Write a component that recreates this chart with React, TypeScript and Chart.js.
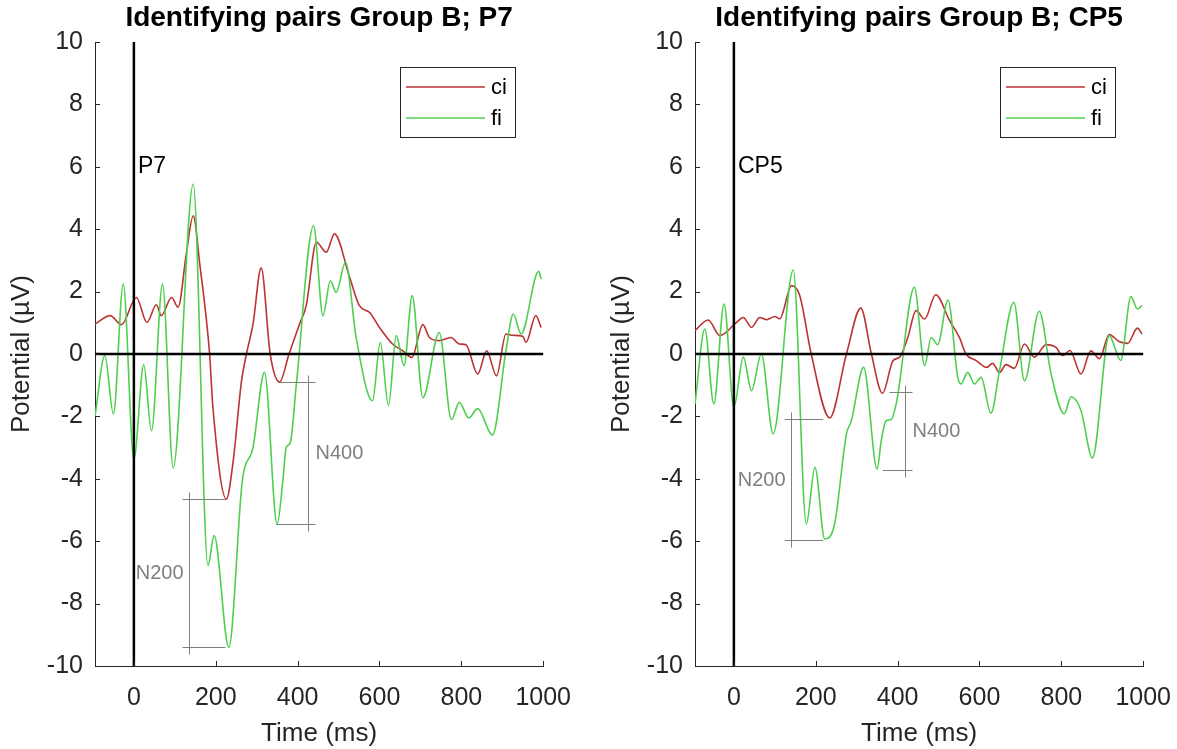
import React, { useEffect, useRef } from 'react';
import { Chart, registerables } from 'chart.js';

Chart.register(...registerables);

const FONT = "'Liberation Sans', Arial, Helvetica, sans-serif";
const AXIS_GRAY = '#262626';
const NOTE_GRAY = '#7f7f7f';

// Axis ranges and tick values
const timeMin = -95;
const timeMax = 1000;
const xTicks = [0, 200, 400, 600, 800, 1000];
const yTicks = [-10, -8, -6, -4, -2, 0, 2, 4, 6, 8, 10];

const seriesNames = ['ci', 'fi'];
const seriesColors = ['#bb3333', '#4fcf4f'];

// P7 electrode, condition ci (ms, µV)
const p7CiTime = [-95, -58, -30, 6, 32, 55, 67, 92, 108, 128, 145, 161, 185, 193, 226, 242, 263, 275, 291, 311, 333, 356, 379, 405, 421, 446, 470, 490, 527, 551, 576, 600, 632, 657, 679, 706, 722, 746, 775, 795, 811, 840, 862, 886, 909, 925, 950, 958, 982, 995];
const p7CiValue = [0.96, 1.23, 0.94, 1.81, 1.01, 1.58, 1.23, 1.81, 1.5, 3.2, 4.43, 2.88, 0, -1.7, -4.65, -3.5, -0.86, 0, 0.96, 2.76, 0, -0.9, 0, 0.97, 1.55, 3.58, 3.26, 3.85, 2.46, 1.55, 1.33, 0.85, 0.32, 0.1, -0.11, 0.94, 0.53, 0.43, 0.53, 0.32, 0.3, -0.64, 0.1, -0.7, 0.64, 0.6, 0.57, 0.37, 1.23, 0.85];

// P7 electrode, condition fi
const p7FiTime = [-95, -71, -50, -26, 0, 24, 43, 70, 96, 145, 181, 196, 232, 265, 291, 319, 350, 364, 372, 382, 397, 439, 462, 480, 494, 517, 543, 583, 602, 622, 641, 660, 680, 706, 746, 776, 795, 818, 840, 876, 909, 927, 946, 989, 995];
const p7FiValue = [-2.0, -0.05, -1.92, 2.24, -3.37, -0.34, -2.46, 2.24, -3.65, 5.45, -6.78, -5.82, -9.4, -4.06, -3.0, -0.59, -5.45, -4.06, -3.0, -2.85, -0.96, 4.11, 1.23, 2.35, 1.97, 2.94, 0.53, -1.5, 0.37, -1.65, 0.59, -0.37, 1.87, -1.4, 0.69, -2.1, -1.55, -2.05, -1.75, -2.6, 0.1, 1.28, 0.64, 2.65, 2.4];

// CP5 electrode, condition ci
const cp5CiTime = [-95, -63, -34, 6, 23, 43, 63, 80, 100, 112, 141, 161, 189, 234, 275, 310, 336, 363, 389, 405, 425, 445, 466, 493, 527, 551, 567, 592, 618, 632, 649, 665, 685, 710, 734, 763, 787, 803, 821, 848, 872, 893, 917, 941, 962, 986, 997];
const cp5CiValue = [0.75, 1.09, 0.59, 1.01, 1.17, 0.85, 1.17, 1.1, 1.2, 1.13, 2.19, 1.87, 0, -2.05, 0, 1.47, 0, -1.26, -0.21, -0.1, 0.53, 1.39, 1.12, 1.9, 1.07, 0.53, 0, -0.21, -0.43, -0.3, -0.59, -0.34, -0.46, 0.32, -0.1, 0.3, 0.21, -0.05, 0.11, -0.64, 0.1, -0.15, 0.62, 0.4, 0.34, 0.83, 0.64];

// CP5 electrode, condition fi
const cp5FiTime = [-95, -71, -49, -24, 0, 23, 43, 67, 96, 145, 177, 198, 222, 246, 275, 287, 317, 350, 360, 372, 384, 398, 441, 466, 482, 498, 523, 547, 555, 571, 588, 604, 628, 649, 684, 710, 746, 775, 807, 824, 848, 876, 917, 945, 970, 986, 997];
const cp5FiValue = [-1.6, 0.8, -1.6, 1.6, -1.7, -0.1, -1.18, 0, -2.56, 2.69, -5.45, -3.63, -5.93, -5.45, -2.56, -2.14, -0.43, -3.69, -2.78, -2.14, -2.1, -1.5, 2.14, -0.37, 0.53, 0.3, 1.73, -0.75, -0.96, -0.59, -0.96, -0.75, -1.9, -0.53, 1.66, -0.86, 1.37, -0.64, -1.92, -1.37, -1.81, -3.33, 0.59, -0.21, 1.84, 1.44, 1.55];

// Component brackets: [label, bar time, upper cap end time, lower cap end time, upper level, lower level, label side]
type Bracket = [string, number, number, number, number, number, 'left' | 'right'];
const p7Brackets: Bracket[] = [
  ['N200', 135, 226, 224, -4.65, -9.4, 'left'],
  ['N400', 425, 356, 348, -0.9, -5.45, 'right'],
];
const cp5Brackets: Bracket[] = [
  ['N200', 139, 218, 218, -2.08, -5.96, 'left'],
  ['N400', 417, 380, 364, -1.23, -3.71, 'right'],
];

// Electrode name placement (ms, µV)
const electrodeLabelAt = [10, 6];

function strokeLine(ctx: CanvasRenderingContext2D, x1: number, y1: number, x2: number, y2: number) {
  ctx.beginPath();
  ctx.moveTo(x1, y1);
  ctx.lineTo(x2, y2);
  ctx.stroke();
}

const erpOverlay = {
  id: 'erpOverlay',
  afterDatasetsDraw(chart: any, _args: any, opts: any) {
    const { ctx, chartArea: a } = chart;
    const x = chart.scales.x;
    const y = chart.scales.y;
    ctx.save();

    // zero reference lines
    ctx.strokeStyle = '#000';
    ctx.lineWidth = 2.5;
    const y0 = y.getPixelForValue(0);
    strokeLine(ctx, a.left, y0, a.right, y0);
    const x0 = x.getPixelForValue(0);
    strokeLine(ctx, x0, a.top, x0, a.bottom);

    // inward tick marks
    ctx.strokeStyle = AXIS_GRAY;
    ctx.lineWidth = 1;
    y.ticks.forEach((t: any) => {
      const py = Math.round(y.getPixelForValue(t.value)) + 0.5;
      strokeLine(ctx, a.left, py, a.left + 5, py);
    });
    x.ticks.forEach((t: any) => {
      const px = Math.round(x.getPixelForValue(t.value)) + 0.5;
      strokeLine(ctx, px, a.bottom, px, a.bottom - 5);
    });

    // component brackets
    ctx.strokeStyle = NOTE_GRAY;
    ctx.fillStyle = NOTE_GRAY;
    ctx.lineWidth = 1;
    ctx.font = `20px ${FONT}`;
    ctx.textBaseline = 'middle';
    (opts.brackets as Bracket[]).forEach(([label, t, tTop, tBot, hi, lo, side]) => {
      const vx = Math.round(x.getPixelForValue(t)) + 0.5;
      const yHi = Math.round(y.getPixelForValue(hi)) + 0.5;
      const yLo = Math.round(y.getPixelForValue(lo)) + 0.5;
      strokeLine(ctx, vx, yHi - 7, vx, yLo + 7);
      const over = side === 'left' ? -7 : 7;
      strokeLine(ctx, vx + over, yHi, x.getPixelForValue(tTop), yHi);
      strokeLine(ctx, vx + over, yLo, x.getPixelForValue(tBot), yLo);
      ctx.textAlign = side === 'left' ? 'right' : 'left';
      ctx.fillText(label, side === 'left' ? vx - 6 : vx + 7, (yHi + yLo) / 2);
    });

    // electrode name
    ctx.fillStyle = '#000';
    ctx.font = `23px ${FONT}`;
    ctx.textAlign = 'left';
    ctx.fillText(opts.electrode, x.getPixelForValue(electrodeLabelAt[0]), y.getPixelForValue(electrodeLabelAt[1]));

    // legend box
    const bw = 115;
    const bh = 70;
    const bx = Math.round(a.right - 28 - bw);
    const by = Math.round(a.top + 25);
    ctx.fillStyle = '#fff';
    ctx.fillRect(bx, by, bw, bh);
    ctx.strokeStyle = AXIS_GRAY;
    ctx.lineWidth = 1;
    ctx.strokeRect(bx + 0.5, by + 0.5, bw, bh);
    ctx.font = `22px ${FONT}`;
    chart.data.datasets.forEach((ds: any, i: number) => {
      const ly = by + 20 + i * 31;
      ctx.strokeStyle = ds.borderColor;
      ctx.lineWidth = 1.5;
      strokeLine(ctx, bx + 6, ly, bx + 85, ly);
      ctx.fillStyle = '#000';
      ctx.textAlign = 'left';
      ctx.fillText(ds.label, bx + 91, ly + 1);
    });

    ctx.restore();
  },
};

type PanelProps = {
  title: string;
  electrode: string;
  ciTime: number[];
  ciValue: number[];
  fiTime: number[];
  fiValue: number[];
  brackets: Bracket[];
  left: number;
};

const PANEL_W = 588;
const PANEL_H = 749;

function ErpPanel(p: PanelProps) {
  const ref = useRef<HTMLCanvasElement>(null);

  useEffect(() => {
    const toPoints = (ts: number[], vs: number[]) => ts.map((t, i) => ({ x: t, y: vs[i] }));
    const chart = new Chart(ref.current as HTMLCanvasElement, {
      type: 'line',
      data: {
        datasets: [
          {
            label: seriesNames[0],
            data: toPoints(p.ciTime, p.ciValue),
            borderColor: seriesColors[0],
            borderWidth: 1.6,
            pointRadius: 0,
            cubicInterpolationMode: 'monotone',
            order: 1,
          },
          {
            label: seriesNames[1],
            data: toPoints(p.fiTime, p.fiValue),
            borderColor: seriesColors[1],
            borderWidth: 1.6,
            pointRadius: 0,
            cubicInterpolationMode: 'monotone',
            order: 0,
          },
        ],
      } as any,
      options: {
        responsive: false,
        animation: false,
        devicePixelRatio: 1,
        layout: { padding: { left: 0, right: 44, top: 0, bottom: 0 } },
        scales: {
          x: {
            type: 'linear',
            position: 'bottom',
            min: timeMin,
            max: timeMax,
            afterBuildTicks: (s: any) => {
              s.ticks = xTicks.map((v) => ({ value: v }));
            },
            afterFit: (s: any) => {
              s.height = 83;
            },
            grid: { display: false, drawTicks: false },
            border: { display: true, color: AXIS_GRAY, width: 1 },
            ticks: {
              color: AXIS_GRAY,
              font: { family: FONT, size: 25 },
              padding: 17,
              maxRotation: 0,
              callback: (v: any) => String(v),
            },
            title: {
              display: true,
              text: 'Time (ms)',
              color: AXIS_GRAY,
              font: { family: FONT, size: 26 },
              padding: { top: 0, bottom: 0 },
            },
          },
          y: {
            type: 'linear',
            min: -10,
            max: 10,
            afterBuildTicks: (s: any) => {
              s.ticks = yTicks.map((v) => ({ value: v }));
            },
            afterFit: (s: any) => {
              s.width = 95;
            },
            grid: { display: false, drawTicks: false },
            border: { display: true, color: AXIS_GRAY, width: 1 },
            ticks: {
              color: AXIS_GRAY,
              font: { family: FONT, size: 25 },
              padding: 12,
              callback: (v: any) => String(v),
            },
            title: {
              display: true,
              text: 'Potential (µV)',
              color: AXIS_GRAY,
              font: { family: FONT, size: 26 },
              padding: { top: 6, bottom: 0 },
            },
          },
        },
        plugins: {
          legend: { display: false },
          tooltip: { enabled: false },
          title: {
            display: true,
            text: p.title,
            fullSize: false,
            color: '#000',
            font: { family: FONT, size: 28, weight: 'bold', lineHeight: 1 },
            padding: { top: 4, bottom: 10 },
          },
          erpOverlay: { electrode: p.electrode, brackets: p.brackets },
        } as any,
      },
      plugins: [erpOverlay],
    } as any);
    return () => chart.destroy();
  }, []);

  return (
    <canvas
      ref={ref}
      width={PANEL_W}
      height={PANEL_H}
      style={{ position: 'absolute', left: p.left, top: 0, width: PANEL_W, height: PANEL_H }}
    />
  );
}

export default function App() {
  return (
    <div
      style={{
        position: 'absolute',
        left: 0,
        top: 0,
        width: 1177,
        height: 749,
        overflow: 'hidden',
        background: '#fff',
      }}
    >
      <ErpPanel
        title="Identifying pairs Group B; P7"
        electrode="P7"
        ciTime={p7CiTime}
        ciValue={p7CiValue}
        fiTime={p7FiTime}
        fiValue={p7FiValue}
        brackets={p7Brackets}
        left={0}
      />
      <ErpPanel
        title="Identifying pairs Group B; CP5"
        electrode="CP5"
        ciTime={cp5CiTime}
        ciValue={cp5CiValue}
        fiTime={cp5FiTime}
        fiValue={cp5FiValue}
        brackets={cp5Brackets}
        left={600}
      />
    </div>
  );
}
